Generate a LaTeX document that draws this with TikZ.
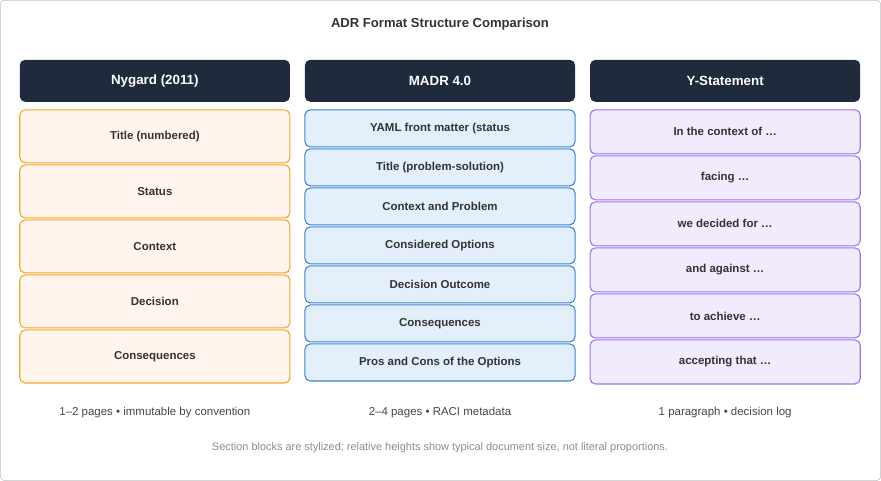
\documentclass[tikz,border=0pt]{standalone}
\usepackage{fontspec}
\setmainfont{Liberation Sans}
\definecolor{hdr}{HTML}{1F2A3C}
\definecolor{nyf}{HTML}{FFF5EC}\definecolor{nyd}{HTML}{F5A623}
\definecolor{maf}{HTML}{E3F0FB}\definecolor{mad}{HTML}{3B82D6}
\definecolor{yf}{HTML}{F1EBFD}\definecolor{yd}{HTML}{A06EF0}
\definecolor{txt}{HTML}{333333}
\begin{document}
\begin{tikzpicture}[x=0.75pt,y=-0.75pt,
 hd/.style={fill=hdr,rounded corners=4pt,text=white,font=\bfseries\fontsize{10}{12}\selectfont},
 sec/.style={rounded corners=4pt,line width=0.8pt,text=txt,font=\bfseries\fontsize{8.6}{10}\selectfont},
 ny/.style={sec,fill=nyf,draw=nyd},
 ma/.style={sec,fill=maf,draw=mad},
 ys/.style={sec,fill=yf,draw=yd},
 ft/.style={text=txt!90,font=\fontsize{8.6}{10}\selectfont}]
\draw[draw=black!25,fill=white,rounded corners=3pt] (0.5,0.5) rectangle (880.5,480.5);
\node[font=\bfseries\fontsize{9.8}{12}\selectfont,text=txt] (title) at (440,24) {ADR Format Structure Comparison};
\foreach \x/\t/\n in {20/Nygard (2011)/h1,305/MADR 4.0/h2,590/Y-Statement/h3}{
 \path[hd] (\x,60) rectangle ++(270,42);
 \node[text=white,font=\bfseries\fontsize{10}{12}\selectfont] (\n) at (\x+135,81) {\t};}
\foreach \y/\t [count=\i] in {110/Title (numbered),165/Status,220/Context,275/Decision,330/Consequences}{
 \path[ny] (20,\y) rectangle ++(270,53);
 \node[text=txt,font=\bfseries\fontsize{8.6}{10}\selectfont] (n\i) at (155,\y+26.5) {\t};}
\foreach \y/\t [count=\i] in {110/YAML front matter (status / date / RACI),149/Title (problem-solution),188/Context and Problem,227/Considered Options,266/Decision Outcome,305/Consequences,344/Pros and Cons of the Options}{
 \path[ma] (305,\y) rectangle ++(270,37);
 \node[text=txt,font=\bfseries\fontsize{8.6}{10}\selectfont] (m\i) at (440,\y+18.5) {\t};}
\foreach \y/\t [count=\i] in {110/In the context of …,156/facing …,202/we decided for …,248/and against …,294/to achieve …,340/accepting that …}{
 \path[ys] (590,\y) rectangle ++(270,44);
 \node[text=txt,font=\bfseries\fontsize{8.6}{10}\selectfont] (y\i) at (725,\y+22) {\t};}
\node[ft] (f1) at (155,413) {1–2 pages • immutable by convention};
\node[ft] (f2) at (440,413) {2–4 pages • RACI metadata};
\node[ft] (f3) at (725,413) {1 paragraph • decision log};
\node[text=black!45,font=\fontsize{8.2}{10}\selectfont] (note) at (440,448) {Section blocks are stylized; relative heights show typical document size, not literal proportions.};
\end{tikzpicture}
\end{document}
